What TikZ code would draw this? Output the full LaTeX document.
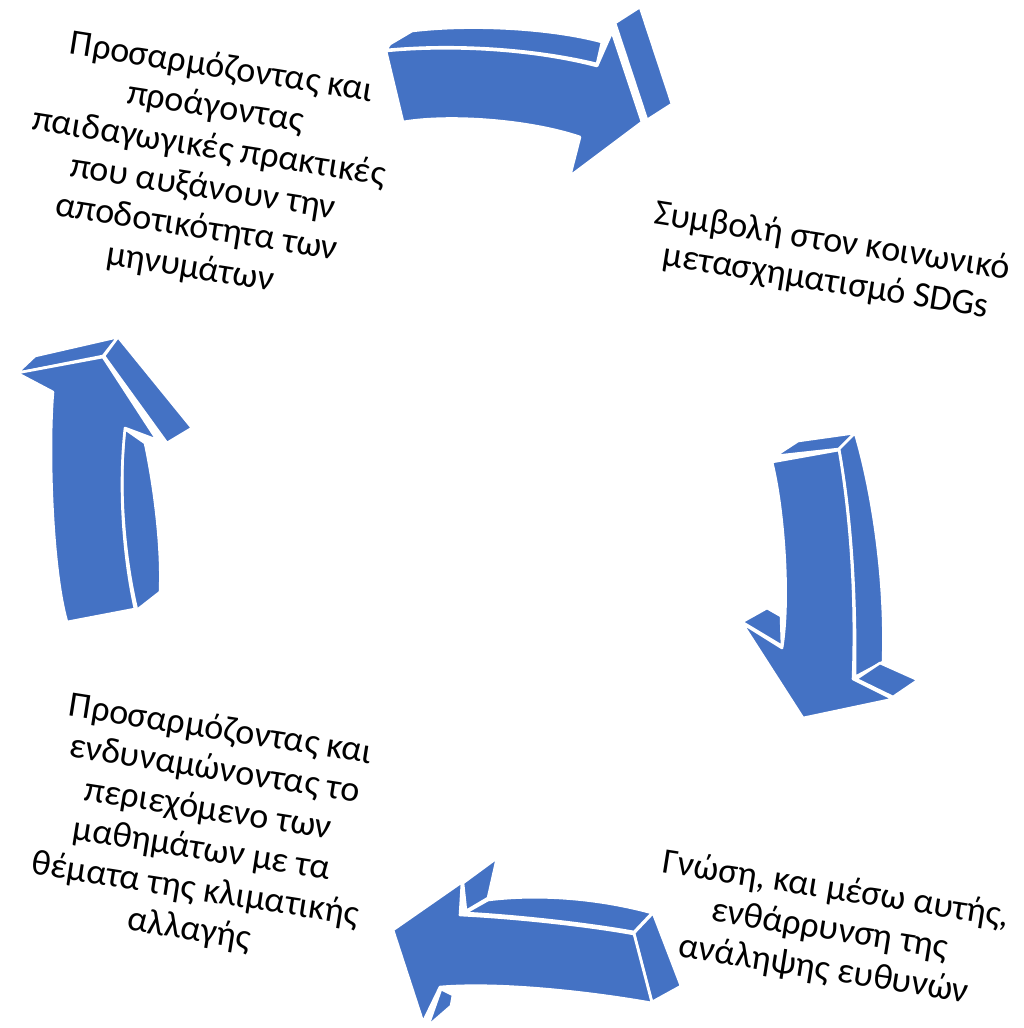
\documentclass[tikz,border=0pt]{standalone}
\usepackage{fontspec}
\setmainfont{Carlito}
\definecolor{ablue}{HTML}{4472C4}
\tikzset{
  face/.style={fill=ablue, draw=white, line width=2.6pt, line join=round},
  lbl/.style={align=center, text=black, inner sep=0pt, rotate=-9,
    font=\fontsize{36}{40.5}\selectfont}
}
\begin{document}
\begin{tikzpicture}[x=1pt,y=-1pt]
\useasboundingbox (0,0) rectangle (1024,1028);
\fill[white] (0,0) rectangle (1024,1028);

% ---------- top arrow (pointing right) ----------
\path[face] (390,44) -- (412,31) .. controls (470,24) and (550,28) .. (602,42)
  -- (597,64) .. controls (540,50) and (460,43) .. (386,50) -- cycle;
\path[face] (386,51) .. controls (460,44) and (540,51) .. (597,66)
  -- (612,32) -- (642,122) -- (570,176) -- (580,137)
  .. controls (530,120) and (450,114) .. (403,122) -- cycle;
\path[face] (615,23) -- (640,7) -- (672,104) -- (647,120) -- cycle;

% ---------- right arrow (pointing down) ----------
\path[face] (775,456) -- (798,441) -- (855,433) -- (839,449) -- cycle;
\path[face] (839,449) -- (855,433) .. controls (872,490) and (886,580) .. (883,662)
  -- (855,677) .. controls (856,600) and (852,520) .. (839,449) -- cycle;
\path[face] (856,679) -- (880,663) -- (918,680) -- (893,697) -- cycle;
\path[face] (772,462) -- (839,450) .. controls (851,520) and (856,600) .. (853,679)
  -- (893,699) -- (803,718) -- (742,623) -- (782,648)
  .. controls (790,600) and (784,510) .. (772,462) -- cycle;
\path[face] (742,622) -- (767,608) -- (781,616) -- (782,646) -- cycle;

% ---------- bottom arrow (pointing left) ----------
\path[face] (465,913) -- (488,900) .. controls (545,893) and (605,900) .. (652,913)
  -- (634,932) .. controls (590,924) and (520,916) .. (465,913) -- cycle;
\path[face] (634,933) -- (653,913) -- (681,986) -- (652,1002) -- cycle;
\path[face] (460,915) .. controls (520,918) and (590,926) .. (634,934)
  -- (652,1003) .. controls (590,992) and (500,982) .. (440,987)
  -- (423,1022) -- (393,930) -- (462,882) -- cycle;
\path[face] (463,883) -- (497,858) -- (488,898) -- (466,911) -- cycle;
\path[face] (441,989) -- (453,995) -- (451,1006) -- (428,1026) -- cycle;

% ---------- left arrow (pointing up) ----------
\path[face] (17,373) -- (35,356) -- (118,337) -- (103,356) -- cycle;
\path[face] (104,356) -- (118,337) -- (192,428) -- (167,443) -- cycle;
\path[face] (125,429) -- (145,443) .. controls (155,490) and (162,550) .. (160,592)
  -- (137,610) .. controls (125,560) and (118,490) .. (125,429) -- cycle;
\path[face] (17,373) -- (103,357) -- (157,440) -- (125,428)
  .. controls (118,490) and (124,560) .. (135,609)
  -- (67,622) .. controls (52,570) and (48,450) .. (53,392) -- cycle;

% ---------- labels ----------
\node[lbl] (tl) at (206,168) {Προσαρμόζοντας και\\προάγοντας\\παιδαγωγικές πρακτικές\\που αυξάνουν την\\αποδοτικότητα των\\μηνυμάτων};
\node[lbl] (tr) at (829,262) {Συμβολή στον κοινωνικό\\μετασχηματισμό SDGs};
\node[lbl] (br) at (830,930) {Γνώση, και μέσω αυτής,\\ενθάρρυνση της\\ανάληψης ευθυνών};
\node[lbl] (bl) at (205,830) {Προσαρμόζοντας και\\ενδυναμώνοντας το\\περιεχόμενο των\\μαθημάτων με τα\\θέματα της κλιματικής\\αλλαγής};
\end{tikzpicture}
\end{document}
